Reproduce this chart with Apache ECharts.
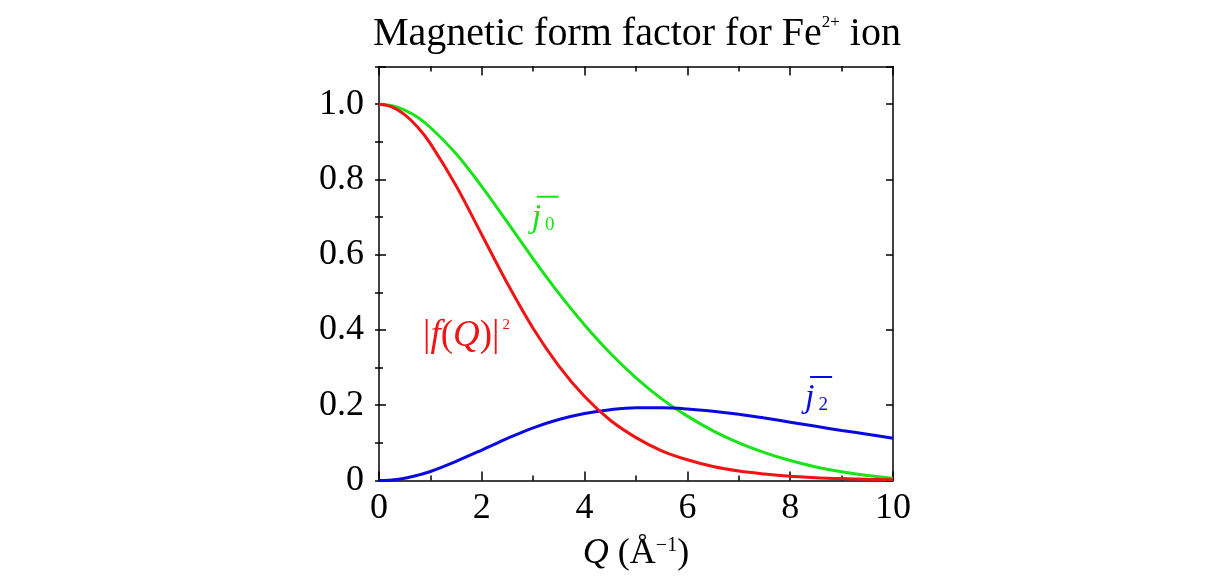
<!DOCTYPE html>
<html>
<head>
<meta charset="utf-8">
<script src="https://cdn.jsdelivr.net/npm/echarts@6/dist/echarts.min.js"></script>
<style>
  html, body { margin: 0; padding: 0; background: #ffffff; }
  #chart { width: 1213px; height: 586px; }
</style>
</head>
<body>
<div id="chart"></div>
<script>
// Momentum transfer Q (1/Å)
const qValues = [0, 0.25, 0.5, 0.75, 1, 1.5, 2, 2.5, 3, 3.5, 4, 4.5, 5, 5.5, 6, 6.5, 7, 7.5, 8, 8.5, 9, 9.5, 10];
// <j0> radial integral
const j0Values = [1.000, 0.996, 0.984, 0.965, 0.938, 0.868, 0.781, 0.686, 0.589, 0.497, 0.413, 0.338, 0.273,
                  0.217, 0.171, 0.132, 0.100, 0.074, 0.053, 0.036, 0.023, 0.013, 0.006];
// <j2> radial integral
const j2Values = [0.000, 0.0016, 0.006, 0.014, 0.024, 0.051, 0.081, 0.112, 0.140, 0.162, 0.178, 0.188, 0.193,
                  0.193, 0.190, 0.184, 0.176, 0.166, 0.155, 0.144, 0.133, 0.123, 0.112];
// squared magnetic form factor |f(Q)|^2
const formFactorSq = [1.000, 0.993, 0.972, 0.939, 0.895, 0.783, 0.653, 0.523, 0.404, 0.304, 0.223, 0.160, 0.114,
                      0.079, 0.055, 0.037, 0.025, 0.017, 0.011, 0.007, 0.005, 0.003, 0.002];

const xTickValues = [0, 2, 4, 6, 8, 10];
const xTickLabels = ['0', '2', '4', '6', '8', '10'];
const yTickValues = [0, 0.2, 0.4, 0.6, 0.8, 1.0];
const yTickLabels = ['0', '0.2', '0.4', '0.6', '0.8', '1.0'];

const SERIF = "'Liberation Serif', 'Times New Roman', serif";
const RED = '#f01414';
const GREEN = '#19e319';
const BLUE = '#0a0ae0';

function pairs(ys) { return qValues.map((q, i) => [q, ys[i]]); }
function labelFor(values, labels) {
  return function (v) {
    for (let i = 0; i < values.length; i++) {
      if (Math.abs(values[i] - v) < 1e-6) return labels[i];
    }
    return '';
  };
}

const chart = echarts.init(document.getElementById('chart'), null, { renderer: 'canvas' });

const axisLine = { show: true, onZero: false, lineStyle: { color: '#000', width: 1.5 } };

function xAxisDef(position, withLabels) {
  return {
    type: 'value', position: position, min: 0, max: 10, interval: 2,
    axisLine: axisLine,
    axisTick: { show: true, inside: true, length: 9, lineStyle: { color: '#000', width: 1.5 } },
    minorTick: { show: true, splitNumber: 2, length: 5, lineStyle: { color: '#000', width: 1.5 } },
    splitLine: { show: false },
    axisLabel: withLabels ? {
      show: true, margin: 10, color: '#000', fontFamily: SERIF, fontSize: 36,
      formatter: labelFor(xTickValues, xTickLabels)
    } : { show: false }
  };
}

function yAxisDef(position, interval, tickLen, withLabels, withLine) {
  return {
    type: 'value', position: position, min: 0, max: 1.1, interval: interval,
    axisLine: withLine ? axisLine : { show: false },
    axisTick: { show: true, inside: true, length: tickLen, lineStyle: { color: '#000', width: 1.5 } },
    splitLine: { show: false },
    axisLabel: withLabels ? {
      show: true, margin: 15, color: '#000', fontFamily: SERIF, fontSize: 36,
      formatter: labelFor(yTickValues, yTickLabels)
    } : { show: false }
  };
}

const xMain = xAxisDef('bottom', true);
xMain.name = '{i|Q} {n|(Å}{s|−1}{n|)}';
xMain.nameLocation = 'middle';
xMain.nameGap = 55;
xMain.nameTextStyle = {
  color: '#000', fontFamily: SERIF, fontSize: 36,
  rich: {
    i: { fontFamily: SERIF, fontSize: 36, fontStyle: 'italic', lineHeight: 36, color: '#000' },
    n: { fontFamily: SERIF, fontSize: 36, lineHeight: 36, color: '#000' },
    s: { fontFamily: SERIF, fontSize: 20, lineHeight: 24, verticalAlign: 'top', color: '#000' }
  }
};

chart.setOption({
  animation: false,
  backgroundColor: '#ffffff',
  title: {
    text: '{t|Magnetic form factor for Fe}{s|2+}{t| ion}',
    left: 373, top: 14, padding: 0,
    textStyle: {
      fontWeight: 'normal',
      rich: {
        t: { fontFamily: SERIF, fontSize: 40, fontWeight: 'normal', lineHeight: 40, color: '#000' },
        s: { fontFamily: SERIF, fontSize: 17, fontWeight: 'normal', lineHeight: 23, verticalAlign: 'top', color: '#000' }
      }
    }
  },
  grid: { left: 379, right: 320, top: 66.5, bottom: 105.5, containLabel: false },
  xAxis: [xMain, xAxisDef('top', false)],
  yAxis: [
    yAxisDef('left', 0.2, 7, true, true),
    yAxisDef('left', 0.1, 4, false, false),
    yAxisDef('right', 0.2, 7, false, true),
    yAxisDef('right', 0.1, 4, false, false)
  ],
  series: [
    { name: 'j0', type: 'line', data: pairs(j0Values), showSymbol: false, smooth: 0.35,
      lineStyle: { color: GREEN, width: 3 }, itemStyle: { color: GREEN }, z: 2 },
    { name: 'j2', type: 'line', data: pairs(j2Values), showSymbol: false, smooth: 0.35,
      lineStyle: { color: BLUE, width: 3 }, itemStyle: { color: BLUE }, z: 3 },
    { name: 'fq2', type: 'line', data: pairs(formFactorSq), showSymbol: false, smooth: 0.35,
      lineStyle: { color: RED, width: 3 }, itemStyle: { color: RED }, z: 4 }
  ]
});

// Curve annotations, anchored in data space at the lower-left corner of each label
function px(q, v) { return chart.convertToPixel({ xAxisIndex: 0, yAxisIndex: 0 }, [q, v]); }

function barLabel(q, v, sub, color) {
  const p = px(q, v);
  return {
    type: 'group', x: p[0], y: p[1], silent: true,
    children: [
      { type: 'text', x: 0, y: 0,
        style: {
          text: '{j|j}{b|' + sub + '}', align: 'left', verticalAlign: 'bottom',
          rich: {
            j: { fontFamily: SERIF, fontSize: 34, fontStyle: 'italic', lineHeight: 34, fill: color },
            b: { fontFamily: SERIF, fontSize: 19, lineHeight: 19, verticalAlign: 'bottom', fill: color, padding: [0, 0, 0, 4] }
          }
        } },
      { type: 'line', shape: { x1: 5, y1: -38, x2: 27, y2: -38 }, style: { stroke: color, lineWidth: 2 } }
    ]
  };
}

const fq = px(0.856, 0.334);
chart.setOption({
  graphic: [
    {
      type: 'text', x: fq[0], y: fq[1], silent: true,
      style: {
        text: '{n||}{i|f}{n|(}{i|Q}{n|)|}{s|2}', align: 'left', verticalAlign: 'bottom',
        rich: {
          n: { fontFamily: SERIF, fontSize: 37, lineHeight: 37, fill: RED },
          i: { fontFamily: SERIF, fontSize: 37, fontStyle: 'italic', lineHeight: 37, fill: RED },
          s: { fontFamily: SERIF, fontSize: 15, lineHeight: 30, verticalAlign: 'top', fill: RED, padding: [0, 0, 0, 3] }
        }
      }
    },
    barLabel(2.97, 0.653, '0', GREEN),
    barLabel(8.29, 0.174, '2', BLUE)
  ]
});
</script>
</body>
</html>
